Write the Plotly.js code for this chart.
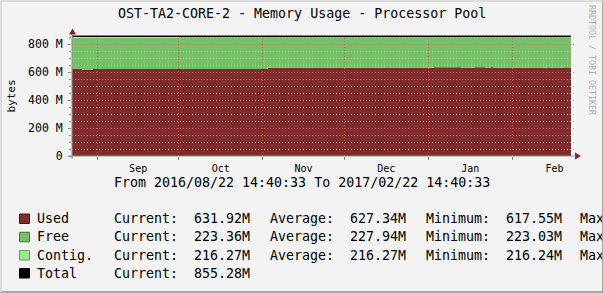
<!DOCTYPE html>
<html><head><meta charset="utf-8">
<script src="https://cdn.plot.ly/plotly-3.0.1.min.js"></script>
<style>
html,body{margin:0;padding:0;background:#f3f3f3;}
#wrap{position:relative;width:603px;height:293px;}
#chart{width:603px;height:293px;}
#frame{position:absolute;left:0;top:0;width:603px;height:293px;box-sizing:border-box;border-top:2px solid #dcdcdc;border-left:2px solid #dcdcdc;border-right:1px solid #a6a6a6;border-bottom:2px solid #a6a6a6;pointer-events:none;}
</style></head>
<body><div id="wrap"><div id="chart"></div><div id="frame"></div></div>
<script>
// ---- data (values in M bytes) ----
const times = ['2016-08-22 14:40:33','2016-08-24 10:00','2016-08-26 07:00','2016-08-30 08:00','2016-10-01 00:00','2016-11-02 19:00','2016-12-16 12:00','2016-12-17 12:00','2017-01-03 00:00','2017-01-13 00:00','2017-01-18 00:00','2017-01-22 00:00','2017-01-24 00:00','2017-01-25 00:00','2017-02-14 00:00','2017-02-15 00:00','2017-02-20 00:00','2017-02-22 14:40:33'];
const used  = [621, 623, 618, 621, 621, 630, 633, 630, 634, 630, 634, 630, 634, 630, 633, 630, 631.92, 631.92];
const free  = [223.5, 221.5, 226.5, 223.5, 230.3, 225.28, 222.28, 225.28, 221.28, 225.28, 221.28, 225.28, 221.28, 225.28, 222.28, 225.28, 223.36, 223.36];
const total = [855.28, 855.28, 855.28, 855.28, 855.28, 855.28, 855.28, 855.28, 855.28, 855.28, 855.28, 855.28, 855.28, 855.28, 855.28, 855.28, 855.28, 855.28];
const yTickVals = [0, 200, 400, 600, 800];
const yTickText = ['0', '200 M', '400 M', '600 M', '800 M'];
const legendNames = ['Used', 'Free', 'Contig.', 'Total'];
const curVals = ['631.92M', '223.36M', '216.27M', '855.28M'];
const avgVals = ['627.34M', '227.94M', '216.27M', null];
const minVals = ['617.55M', '223.03M', '216.24M', null];
const titleText = 'OST-TA2-CORE-2 - Memory Usage - Processor Pool';
const rangeText = 'From 2016/08/22 14:40:33 To 2017/02/22 14:40:33';

// ---- styling ----
const colors = ['#7e2c2c', '#74c265', '#9be68e', '#000000'];
const borders = ['#3e1616', '#3f7a33', '#5aa24d', '#000000'];
const FONT = '"DejaVu Sans Mono", monospace';
const L = 72, T = 35, W = 503, H = 121;
const px = x => (x - L) / W, py = y => (T + H - y) / H;

const usedFree = used.map((u, i) => u + free[i]);
const traces = [
  {x: times, y: used, type: 'scatter', mode: 'lines', line: {width: 0, shape: 'hv'}, fill: 'tozeroy', fillcolor: colors[0], hoverinfo: 'skip'},
  {x: times, y: usedFree, type: 'scatter', mode: 'lines', line: {width: 0, shape: 'hv'}, fill: 'tonexty', fillcolor: colors[1], hoverinfo: 'skip'},
  {x: times, y: total, type: 'scatter', mode: 'lines', line: {width: 1.3, color: colors[3], shape: 'hv'}, fill: 'tonexty', fillcolor: colors[2], hoverinfo: 'skip'}
];

const ann = [];
const shapes = [];
ann.push({text: titleText, xref: 'paper', yref: 'paper', x: px(301.5), y: py(14), showarrow: false, xanchor: 'center', yanchor: 'middle', font: {family: FONT, size: 13.3, color: '#000'}});
ann.push({text: rangeText, xref: 'paper', yref: 'paper', x: px(302), y: py(182.5), showarrow: false, xanchor: 'center', yanchor: 'middle', font: {family: FONT, size: 13.3, color: '#000'}});
ann.push({text: 'bytes', xref: 'paper', yref: 'paper', x: px(10.5), y: py(96), showarrow: false, textangle: -90, xanchor: 'center', yanchor: 'middle', font: {family: FONT, size: 11, color: '#000'}});
ann.push({text: 'RRDTOOL / TOBI OETIKER', xref: 'paper', yref: 'paper', x: px(592), y: py(60), showarrow: false, textangle: 90, xanchor: 'center', yanchor: 'middle', font: {family: FONT, size: 8.3, color: '#b2b2b2'}});

const rowY = [218.5, 236.8, 255, 273];
legendNames.forEach((name, i) => {
  const yc = rowY[i];
  shapes.push({type: 'rect', xref: 'paper', yref: 'paper', x0: px(19.5), x1: px(29.5), y0: py(yc - 4.5), y1: py(yc + 5), fillcolor: colors[i], line: {color: borders[i], width: 1}});
  const cell = (t, x) => { if (t != null) ann.push({text: t, xref: 'paper', yref: 'paper', x: px(x), y: py(yc), showarrow: false, xanchor: 'left', yanchor: 'middle', font: {family: FONT, size: 13.3, color: '#000'}}); };
  cell(name, 35);
  cell('Current:', 111.5);
  cell(curVals[i], 191.5);
  if (avgVals[i] != null) { cell('Average:', 267.5); cell(avgVals[i], 347.5); }
  if (minVals[i] != null) { cell('Minimum:', 423.5); cell(minVals[i], 503.5); cell('Max', 577.5); }
});

// axis arrows
const arrowCol = '#8a1c1c';
shapes.push({type: 'path', xref: 'paper', yref: 'paper', path: `M ${px(72.5)} ${py(28.5)} L ${px(69)} ${py(34.5)} L ${px(76)} ${py(34.5)} Z`, fillcolor: arrowCol, line: {width: 0}});
shapes.push({type: 'path', xref: 'paper', yref: 'paper', path: `M ${px(581)} ${py(156)} L ${px(575)} ${py(152.5)} L ${px(575)} ${py(159.5)} Z`, fillcolor: arrowCol, line: {width: 0}});
shapes.push({type: 'line', xref: 'paper', yref: 'paper', x0: px(72), x1: px(72), y0: py(34), y1: py(159), line: {color: '#8c8c8c', width: 1}});
shapes.push({type: 'line', xref: 'paper', yref: 'paper', x0: px(69), x1: px(576), y0: py(156), y1: py(156), line: {color: '#8c8c8c', width: 1}});

const layout = {
  width: 603, height: 293,
  margin: {l: L, r: 603 - L - W, t: T, b: 293 - T - H, pad: 0},
  paper_bgcolor: '#f3f3f3', plot_bgcolor: '#ffffff',
  showlegend: false,
  xaxis: {
    type: 'date', range: ['2016-08-22 14:40:33', '2017-02-24 02:00'],
    dtick: 'M1', tick0: '2016-08-01', tickformat: '%b', ticklabelmode: 'period',
    showgrid: true, gridcolor: 'rgba(235,80,80,0.65)', griddash: '1px,2px', gridwidth: 1,
    ticks: 'outside', ticklen: 3, tickcolor: '#8c8c8c', showline: false, zeroline: false,
    tickfont: {family: FONT, size: 10, color: '#000'}, fixedrange: true
  },
  yaxis: {
    range: [0, H / 0.14], tickmode: 'array', tickvals: yTickVals, ticktext: yTickText,
    showgrid: true, gridcolor: 'rgba(235,80,80,0.6)', griddash: '1px,2px', gridwidth: 1,
    minor: {dtick: 50, showgrid: true, gridcolor: 'rgba(200,200,200,0.6)', griddash: '1px,2px', ticks: 'outside', ticklen: 2, tickcolor: '#8c8c8c'},
    ticks: 'outside', ticklen: 3, tickcolor: '#8c8c8c', showline: false, zeroline: false,
    ticklabelstandoff: 3,
    tickfont: {family: FONT, size: 11.5, color: '#000'}, fixedrange: true
  },
  annotations: ann, shapes: shapes
};

Plotly.newPlot('chart', traces, layout, {displayModeBar: false, staticPlot: true}).then(gd => {
  const sp = gd.querySelector('.cartesianlayer .subplot.xy');
  if (!sp) return;
  const over = sp.querySelector('.overplot');
  if (!over) return;
  ['.gridlayer', '.minor-gridlayer'].forEach(s => {
    const g = sp.querySelector(s);
    if (g) over.parentNode.insertBefore(g, over.nextSibling);
  });
});
</script></body></html>
